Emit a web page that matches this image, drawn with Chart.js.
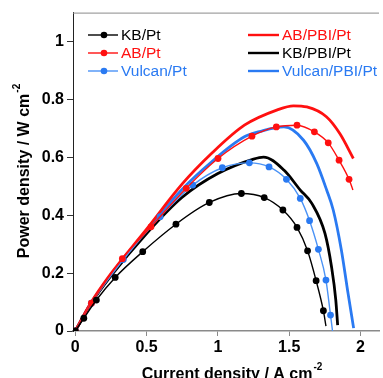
<!DOCTYPE html>
<html>
<head>
<meta charset="utf-8">
<script src="https://cdn.jsdelivr.net/npm/chart.js@4"></script>
<style>
  html, body { margin: 0; padding: 0; background: #fff; }
  #wrap { width: 383px; height: 378px; }
</style>
</head>
<body>
<div id="wrap"><canvas id="graph" width="383" height="378"></canvas></div>
<script>
// axis ticks
const xTicks = [0, 0.5, 1, 1.5, 2];
const xTickLabels = ['0', '0.5', '1', '1.5', '2'];
const yTicks = [0, 0.2, 0.4, 0.6, 0.8, 1];
const yTickLabels = ['0', '0.2', '0.4', '0.6', '0.8', '1'];

// series with markers (current density A cm-2, power density W cm-2)
const kbPtX = [0, 0.06, 0.148, 0.28, 0.473, 0.706, 0.94, 1.165, 1.325, 1.456, 1.555, 1.629, 1.689, 1.74, 1.758];
const kbPtY = [0, 0.044, 0.107, 0.185, 0.274, 0.369, 0.444, 0.475, 0.461, 0.418, 0.358, 0.277, 0.174, 0.07, 0.017];

const abPtX = [0, 0.113, 0.33, 0.531, 0.778, 1.001, 1.239, 1.41, 1.555, 1.677, 1.774, 1.85, 1.92, 1.947];
const abPtY = [0, 0.096, 0.25, 0.36, 0.493, 0.596, 0.673, 0.705, 0.711, 0.688, 0.65, 0.59, 0.524, 0.487];

const vulPtX = [0, 0.113, 0.337, 0.595, 0.824, 1.031, 1.221, 1.359, 1.481, 1.578, 1.643, 1.705, 1.758, 1.79, 1.804];
const vulPtY = [0, 0.096, 0.247, 0.395, 0.504, 0.564, 0.581, 0.567, 0.524, 0.458, 0.381, 0.282, 0.176, 0.055, 0];

// PBI series (lines only)
const abPbiX = [0, 0.1, 0.25, 0.5, 0.75, 0.955, 1.186, 1.417, 1.53, 1.624, 1.761, 1.855, 1.95];
const abPbiY = [0, 0.09, 0.198, 0.352, 0.508, 0.613, 0.711, 0.764, 0.778, 0.774, 0.74, 0.682, 0.596];

const kbPbiX = [0, 0.1, 0.25, 0.5, 0.75, 1.0, 1.25, 1.32, 1.463, 1.578, 1.66, 1.751, 1.797, 1.827, 1.84];
const kbPbiY = [0, 0.087, 0.19, 0.337, 0.462, 0.544, 0.594, 0.601, 0.556, 0.487, 0.44, 0.337, 0.222, 0.107, 0.02];

const vulPbiX = [0, 0.1, 0.25, 0.5, 0.75, 0.955, 1.186, 1.3, 1.463, 1.601, 1.693, 1.763, 1.809, 1.866, 1.913, 1.952];
const vulPbiY = [0, 0.088, 0.195, 0.347, 0.49, 0.584, 0.671, 0.69, 0.705, 0.659, 0.579, 0.487, 0.418, 0.28, 0.13, 0.01];

const RED = '#ff1010';
const BLACK = '#000000';
const BLUE = '#2a7af2';
const LIGHTBLUE = '#4b93f6';

function pts(xs, ys) {
    return xs.map((x, i) => ({ x: x, y: ys[i] }));
}

function markerSeries(label, xs, ys, lineColor, dotColor) {
    return {
        label: label,
        data: pts(xs, ys),
        borderColor: lineColor,
        backgroundColor: dotColor,
        borderWidth: 1.4,
        pointRadius: ctx => ctx.dataIndex === ctx.dataset.data.length - 1 ? 0 : 3.4,
        pointBorderWidth: 0,
        pointBackgroundColor: dotColor,
        cubicInterpolationMode: 'monotone'
    };
}

function lineSeries(label, xs, ys, color) {
    return {
        label: label,
        data: pts(xs, ys),
        borderColor: color,
        backgroundColor: color,
        borderWidth: 2.8,
        pointRadius: 0,
        cubicInterpolationMode: 'monotone'
    };
}

const datasets = [
    markerSeries('KB/Pt', kbPtX, kbPtY, BLACK, BLACK),
    markerSeries('AB/Pt', abPtX, abPtY, RED, RED),
    markerSeries('Vulcan/Pt', vulPtX, vulPtY, LIGHTBLUE, BLUE),
    lineSeries('AB/PBI/Pt', abPbiX, abPbiY, RED),
    lineSeries('KB/PBI/Pt', kbPbiX, kbPbiY, BLACK),
    lineSeries('Vulcan/PBI/Pt', vulPbiX, vulPbiY, BLUE)
];

const FONT = '"Liberation Sans", Arial, sans-serif';

// legend, top frame line and axis titles with superscripts
const decorations = {
    id: 'decorations',
    afterDraw(chart) {
        const c = chart.ctx;
        const a = chart.chartArea;
        c.save();

        c.strokeStyle = '#8a8a8a';
        c.lineWidth = 1;
        c.beginPath();
        c.moveTo(a.left, a.top + 0.5);
        c.lineTo(a.right, a.top + 0.5);
        c.stroke();

        c.font = '15.5px ' + FONT;
        c.textBaseline = 'middle';
        c.textAlign = 'left';
        const rows = [35, 53, 71];
        chart.data.datasets.forEach((ds, i) => {
            const col = i < 3 ? 0 : 1;
            const y = rows[i % 3];
            const x0 = col === 0 ? 88 : 248;
            const x1 = col === 0 ? 118 : 279;
            c.strokeStyle = ds.borderColor;
            c.lineWidth = col === 0 ? 1.4 : 2.4;
            c.beginPath();
            c.moveTo(x0, y);
            c.lineTo(x1, y);
            c.stroke();
            if (col === 0) {
                c.fillStyle = ds.pointBackgroundColor;
                c.beginPath();
                c.arc((x0 + x1) / 2 + 1, y, 3.3, 0, Math.PI * 2);
                c.fill();
            }
            c.fillStyle = ds.label.indexOf('Vulcan') === 0 ? BLUE : ds.borderColor;
            c.fillText(ds.label, x1 + 3, y + 1);
        });

        function titleWithSup(text, sup, cx, cy, rot) {
            c.save();
            c.translate(cx, cy);
            c.rotate(rot);
            c.fillStyle = '#000';
            c.textBaseline = 'alphabetic';
            c.textAlign = 'left';
            c.font = 'bold 16px ' + FONT;
            const w1 = c.measureText(text).width;
            c.font = 'bold 10px ' + FONT;
            const w2 = c.measureText(sup).width;
            const start = -(w1 + w2 + 1) / 2;
            c.font = 'bold 16px ' + FONT;
            c.fillText(text, start, 0);
            c.font = 'bold 10px ' + FONT;
            c.fillText(sup, start + w1 + 1, -9);
            c.restore();
        }
        titleWithSup('Current density / A cm', '-2', 232, 379, 0);
        titleWithSup('Power density / W cm', '-2', 29, 171, -Math.PI / 2);

        c.restore();
    }
};

var ctx = document.getElementById('graph').getContext('2d');

var myGraph = new Chart(ctx, {
    type: 'line',
    data: { datasets: datasets },
    plugins: [decorations],
    options: {
        responsive: false,
        animation: false,
        layout: {
            padding: { top: 12, right: 0, left: 0, bottom: 0 }
        },
        plugins: {
            legend: { display: false },
            title: { display: false },
            tooltip: { enabled: false }
        },
        scales: {
            x: {
                type: 'linear',
                min: -0.016,
                max: 2.13,
                afterBuildTicks: s => { s.ticks = xTicks.map(v => ({ value: v })); },
                afterFit: s => { s.height = 47; },
                ticks: {
                    callback: (v, i) => xTickLabels[i],
                    color: '#000',
                    padding: 2,
                    maxRotation: 0,
                    font: { family: FONT, size: 16, weight: 'bold' }
                },
                grid: {
                    drawOnChartArea: false,
                    drawTicks: true,
                    tickLength: 5,
                    color: '#8a8a8a'
                },
                border: { display: true, color: '#8a8a8a', width: 1.5 }
            },
            y: {
                min: 0,
                max: 1.1,
                afterBuildTicks: s => { s.ticks = yTicks.map(v => ({ value: v })); },
                afterFit: s => { s.width = 73; },
                ticks: {
                    callback: (v, i) => yTickLabels[i],
                    color: '#000',
                    padding: 3,
                    font: { family: FONT, size: 16, weight: 'bold' }
                },
                grid: {
                    drawOnChartArea: false,
                    drawTicks: true,
                    tickLength: 6,
                    color: '#333'
                },
                border: { display: true, color: '#222', width: 1 }
            }
        }
    }
});
</script>
</body>
</html>
